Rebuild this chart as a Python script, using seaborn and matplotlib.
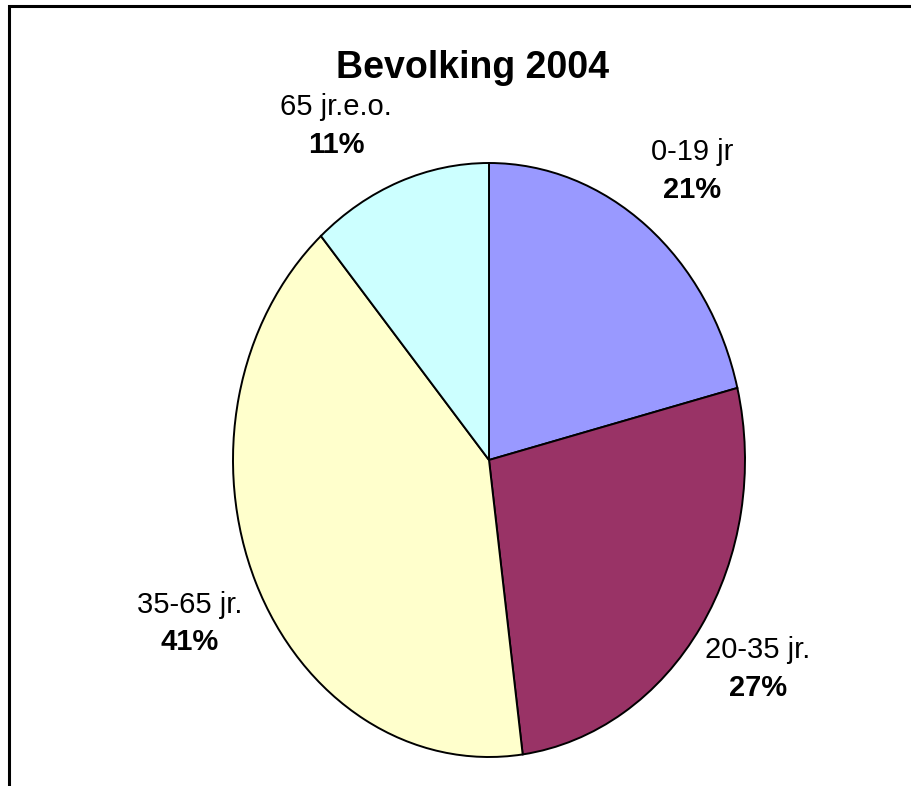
import matplotlib
matplotlib.use("Agg")
import matplotlib.pyplot as plt
import seaborn as sns
import numpy as np
from matplotlib.patches import Rectangle

groups = ["0-19 jr", "20-35 jr.", "35-65 jr.", "65 jr.e.o."]
shares = [21.1, 26.8, 40.7, 11.4]
colors = ["#9999FF", "#993366", "#FFFFCC", "#CCFFFF"]
title = "Bevolking 2004"

sns.set_style("white")
plt.rcParams["text.color"] = "black"
plt.rcParams["font.family"] = ["Liberation Sans", "DejaVu Sans"]

fig = plt.figure(figsize=(9.12, 7.86), dpi=100)
# pie is drawn as an ellipse: axes box spans the ellipse bounds
ax = fig.add_axes([233 / 912, 29 / 786, 512 / 912, 594 / 786])
wedges, _ = ax.pie(shares, colors=colors, startangle=90, counterclock=False,
                   wedgeprops=dict(edgecolor="black", linewidth=1.4))
ax.set_aspect("auto")
ax.set_xlim(-1, 1)
ax.set_ylim(-1, 1)

# extra shift (points) so the small top label clears the title, as Excel does
nudge = {"0-19 jr": (2, -6), "20-35 jr.": (0, 2), "35-65 jr.": (-2, -6),
         "65 jr.e.o.": (-28, -14)}

for w, g, s in zip(wedges, groups, shares):
    mid = np.deg2rad((w.theta1 + w.theta2) / 2)
    x, y = 1.27 * np.cos(mid), 1.27 * np.sin(mid)
    dx, dy = nudge.get(g, (0, 0))
    ax.annotate(g, (x, y), xytext=(dx, dy + 13.5), textcoords="offset points",
                ha="center", va="center", fontsize=21, annotation_clip=False)
    ax.annotate(f"{s:.0f}%", (x, y), xytext=(dx, dy - 13.5), textcoords="offset points",
                ha="center", va="center", fontsize=21, weight="bold",
                annotation_clip=False)

fig.text(473 / 912, 1 - 68 / 786, title, ha="center", va="center",
         fontsize=27, weight="bold")

# chart area border (cut off at right and bottom like the original)
fig.patches.append(Rectangle((9.5 / 912, -0.05), 1.0, 1 - 6 / 786 + 0.05,
                             transform=fig.transFigure, fill=False,
                             edgecolor="black", linewidth=2.2))

fig.savefig("out.png", dpi=100)
